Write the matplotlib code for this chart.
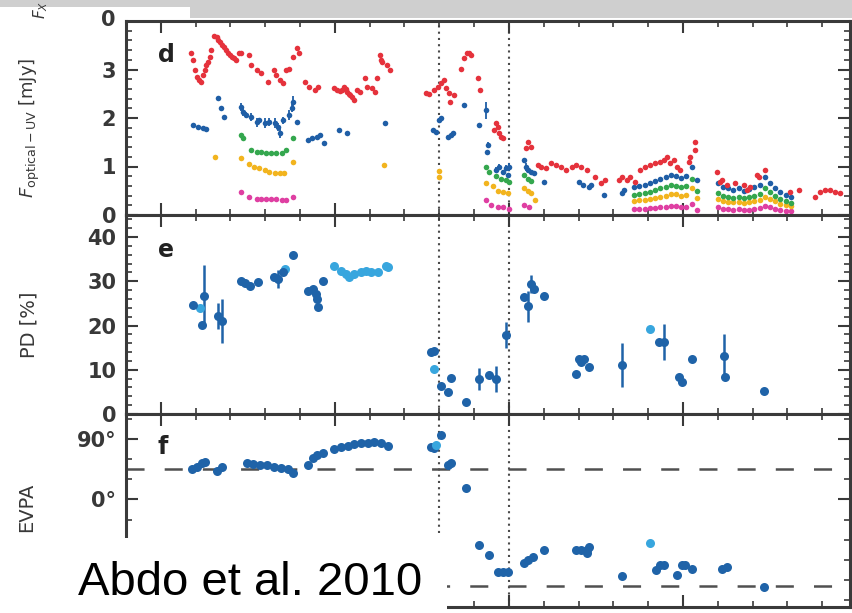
import numpy as np
import matplotlib
matplotlib.use('Agg')
import matplotlib.pyplot as plt
from matplotlib.ticker import MultipleLocator
from matplotlib.patches import Rectangle

plt.rcParams['font.family'] = 'DejaVu Sans'
plt.rcParams['lines.scale_dashes'] = False

# time axis is MJD - 54700
# optical (R band) flux, (day, mJy)
red_pts = [
    (58.7, 3.33), (59.3, 3.19), (59.9, 2.98), (60.4, 2.84), (61.0, 2.78), (61.6, 2.74),
    (62.2, 2.88), (62.8, 2.98), (63.1, 3.09), (63.6, 3.15), (64.0, 3.25), (64.5, 3.40),
    (65.4, 3.70), (66.0, 3.66), (66.5, 3.60), (67.1, 3.56), (67.7, 3.50), (68.2, 3.46),
    (68.8, 3.40), (69.4, 3.35), (70.0, 3.29), (70.5, 3.25), (71.1, 3.23), (71.7, 3.19),
    (72.6, 3.35), (73.1, 3.33), (75.4, 3.29), (76.0, 3.09), (77.5, 2.98), (78.9, 2.92),
    (80.9, 2.74), (82.4, 2.98), (83.2, 2.88), (84.1, 2.78), (85.2, 2.72), (86.1, 2.98),
    (86.7, 3.02), (88.1, 3.25), (89.0, 3.44), (89.6, 3.33),
    (91.3, 2.74), (92.7, 2.63), (94.2, 2.57), (95.3, 2.63),
    (99.7, 2.61), (100.5, 2.57), (101.4, 2.55), (102.0, 2.57), (102.5, 2.63), (103.1, 2.59),
    (103.4, 2.53), (104.0, 2.49), (104.3, 2.47), (104.8, 2.43), (105.4, 2.37), (106.3, 2.57),
    (107.1, 2.53), (108.6, 2.82), (109.2, 2.63), (110.6, 2.61), (111.5, 2.53), (112.0, 2.82),
    (112.9, 3.29), (113.2, 3.19), (113.5, 3.15), (114.9, 3.09), (115.8, 2.98),
    (126.2, 2.51), (127.0, 2.49), (128.5, 2.57), (129.6, 2.63), (130.5, 2.72), (131.4, 2.78),
    (131.9, 2.61), (132.8, 2.51), (133.0, 2.33), (134.2, 2.47),
    (136.3, 3.02), (137.1, 3.23), (138.0, 3.33), (138.6, 3.35), (139.1, 3.29), (141.2, 2.82),
    (141.7, 2.57),
    (145.8, 1.75), (146.3, 1.89), (146.9, 1.81), (147.2, 1.69), (147.8, 1.61), (148.4, 1.58),
    (155.0, 1.38), (155.6, 1.50), (156.4, 1.40),
    (158.4, 1.03), (159.3, 0.99), (160.7, 0.97), (162.2, 1.07), (163.6, 1.03), (165.1, 0.99),
    (166.5, 0.93), (168.0, 0.99), (169.4, 1.03), (170.8, 0.99), (172.3, 0.93), (174.6, 0.78),
    (176.6, 0.66), (177.5, 0.72),
    (181.5, 0.72), (182.4, 0.78), (183.8, 0.72), (184.7, 0.78), (186.1, 0.68), (187.6, 0.93),
    (189.0, 0.99), (190.4, 1.03), (191.9, 1.07), (193.3, 1.09), (194.5, 1.13), (195.3, 1.19),
    (196.2, 1.07), (197.3, 1.13), (198.2, 0.99), (199.1, 0.93), (201.7, 1.09), (202.0, 1.19),
    (203.4, 1.34), (203.6, 1.50),
    (209.7, 0.88), (210.6, 0.68), (211.2, 0.72), (212.6, 0.62), (214.9, 0.66), (217.5, 0.62),
    (218.4, 0.51), (219.2, 0.58), (221.3, 0.82), (221.8, 0.78), (223.6, 0.93),
    (230.8, 0.47), (233.4, 0.51), (238.0, 0.37), (239.4, 0.47), (240.9, 0.51), (242.3, 0.51),
    (243.7, 0.47), (245.2, 0.45),
]

# UV band fluxes (day, mJy, error)
blue_pts = [
    (59.3, 1.85, 0), (60.7, 1.81, 0), (62.2, 1.79, 0), (63.1, 1.77, 0),
    (66.5, 2.41, 0), (67.4, 2.20, 0), (68.2, 2.02, 0),
    (73.1, 2.22, 0.08), (73.7, 2.12, 0.08), (74.6, 2.06, 0.06), (76.0, 2.02, 0.08),
    (77.5, 1.91, 0.10), (78.3, 1.95, 0.06), (79.8, 1.89, 0.10), (81.2, 1.91, 0.08),
    (82.7, 1.89, 0.10), (83.8, 1.81, 0.08), (84.1, 1.69, 0.10), (85.2, 1.95, 0.08),
    (86.7, 2.06, 0.10), (87.6, 2.20, 0.08), (88.1, 2.33, 0.12), (89.0, 1.91, 0),
    (92.4, 1.54, 0), (93.3, 1.58, 0), (94.8, 1.61, 0), (95.6, 1.65, 0), (96.8, 1.48, 0),
    (101.1, 1.75, 0), (103.4, 1.69, 0), (114.4, 1.89, 0),
    (128.2, 1.75, 0), (129.0, 1.71, 0), (129.9, 1.95, 0), (130.5, 1.99, 0),
    (132.5, 1.61, 0), (133.4, 1.65, 0), (133.9, 1.69, 0),
    (137.1, 2.26, 0), (141.4, 1.85, 0), (143.5, 2.16, 0.18), (144.0, 1.45, 0.06), (143.6, 1.30, 0),
    (146.3, 0.93, 0.06), (147.2, 0.99, 0.06), (148.4, 0.88, 0.05), (149.2, 0.97, 0.06),
    (150.1, 0.99, 0.08), (149.8, 0.82, 0),
    (154.4, 1.13, 0.05), (155.0, 0.99, 0.08), (155.6, 0.93, 0), (156.4, 0.88, 0), (157.3, 0.86, 0),
    (160.2, 0.68, 0), (170.0, 0.68, 0), (171.4, 0.62, 0), (172.9, 0.58, 0), (173.7, 0.62, 0),
    (177.2, 0.41, 0), (182.4, 0.45, 0), (183.2, 0.51, 0),
]
green_pts = [
    (73.1, 1.65), (73.7, 1.58), (76.0, 1.34), (77.5, 1.30), (78.9, 1.30), (80.3, 1.27),
    (81.8, 1.27), (83.2, 1.27), (84.7, 1.28), (86.1, 1.34), (88.1, 1.58),
    (143.5, 1.00), (144.3, 0.88), (146.3, 0.80), (147.8, 0.75), (149.2, 0.72), (150.1, 0.68),
    (154.4, 0.82), (155.6, 0.74), (156.4, 0.70),
]
gold_pts = [
    (65.6, 1.19), (73.1, 1.17), (75.4, 1.06), (76.9, 0.99), (78.3, 0.96), (79.8, 0.93),
    (81.2, 0.89), (82.7, 0.87), (84.1, 0.87), (85.5, 0.86), (88.1, 1.10), (114.1, 1.03),
    (130.0, 0.90), (130.0, 0.78),
    (143.5, 0.66), (145.5, 0.60), (146.9, 0.50), (148.4, 0.47), (149.8, 0.45),
    (154.4, 0.55), (155.6, 0.50), (156.4, 0.45), (157.5, 0.31),
]
magenta_pts = [
    (73.1, 0.47), (75.4, 0.37), (77.5, 0.34), (78.9, 0.34), (80.3, 0.33), (81.8, 0.33),
    (83.2, 0.32), (84.7, 0.31), (86.1, 0.31), (88.1, 0.38),
    (143.5, 0.31), (145.0, 0.21), (146.9, 0.17), (148.4, 0.17), (150.1, 0.12),
    (154.4, 0.21), (155.8, 0.17),
]

# late Swift/UVOT coverage, all bands on the same days
uv_days = [186.0, 187.5, 189.0, 190.5, 192.0, 193.5, 195.0, 196.5, 198.0, 199.5, 201.0, 202.5, 204.0,
           210.0, 211.5, 213.0, 214.5, 216.0, 217.5, 219.0, 220.5, 222.0,
           223.5, 225.0, 226.5, 228.0, 229.5, 231.0]
blue_uv = [0.58, 0.60, 0.62, 0.66, 0.70, 0.74, 0.78, 0.82, 0.80, 0.76, 0.80, 1.00, 0.72,
           0.66, 0.58, 0.55, 0.52, 0.55, 0.50, 0.53, 0.57, 0.62,
           0.78, 0.66, 0.55, 0.47, 0.41, 0.37]
green_uv = [0.42, 0.44, 0.46, 0.48, 0.52, 0.55, 0.58, 0.62, 0.60, 0.57, 0.60, 0.75, 0.50,
            0.45, 0.40, 0.38, 0.36, 0.38, 0.35, 0.37, 0.40, 0.44,
            0.55, 0.48, 0.40, 0.33, 0.28, 0.25]
gold_uv = [0.28, 0.30, 0.31, 0.33, 0.35, 0.38, 0.40, 0.44, 0.43, 0.40, 0.42, 0.55, 0.35,
           0.32, 0.28, 0.27, 0.26, 0.27, 0.25, 0.26, 0.28, 0.31,
           0.38, 0.33, 0.28, 0.23, 0.20, 0.18]
magenta_uv = [0.12, 0.13, 0.13, 0.14, 0.15, 0.16, 0.17, 0.19, 0.18, 0.17, 0.17, 0.22, 0.10,
              0.16, 0.13, 0.12, 0.11, 0.12, 0.10, 0.11, 0.12, 0.14,
              0.18, 0.16, 0.13, 0.11, 0.09, 0.08]

# polarization degree (day, %, error)
pd_pts = [
    (59.3, 24.7, 0), (61.9, 20.1, 0), (62.5, 26.7, 7.0), (66.5, 22.2, 3.0), (67.7, 21.0, 5.0),
    (72.9, 30.1, 0), (74.3, 29.6, 0), (75.7, 29.0, 0), (77.8, 29.9, 0),
    (82.4, 31.0, 0), (83.8, 30.5, 2.0), (85.0, 32.1, 0), (88.1, 36.0, 0),
    (92.4, 27.8, 0), (93.6, 28.3, 0), (94.5, 27.1, 0), (95.0, 26.0, 0), (95.3, 24.2, 0), (96.5, 30.1, 0),
    (127.6, 14.0, 0), (128.5, 14.2, 0), (130.5, 6.3, 0), (132.5, 5.0, 0), (133.4, 8.1, 0),
    (137.7, 2.7, 0), (141.4, 7.9, 2.5), (144.3, 8.8, 0), (146.3, 7.9, 3.0), (149.2, 17.9, 3.0),
    (154.4, 26.5, 0), (155.6, 24.4, 3.5), (156.4, 29.4, 2.0), (157.3, 28.3, 0), (160.2, 26.7, 0),
    (169.4, 9.0, 0), (170.0, 12.4, 0), (170.8, 11.8, 0), (171.7, 12.4, 0), (173.1, 10.6, 0),
    (182.4, 11.1, 5.0), (193.0, 16.3, 0), (194.5, 16.3, 4.0),
    (198.8, 8.4, 0), (199.7, 7.2, 0), (202.5, 12.4, 0),
    (211.8, 13.1, 5.0), (212.0, 8.4, 0), (223.3, 5.2, 0),
]
pd_light = [
    (61.3, 24.0), (85.8, 32.8), (99.7, 33.5), (101.7, 32.4), (103.1, 31.7), (104.0, 31.0),
    (105.4, 31.7), (107.4, 32.1), (108.9, 32.4), (110.3, 32.1), (112.3, 32.1), (114.6, 33.5),
    (115.2, 33.3), (128.5, 10.2), (190.4, 19.2),
]

# polarization angle (day, deg)
evpa_pts = [
    (59.0, 45.7), (60.5, 48.7), (61.9, 54.7), (62.8, 56.2), (66.2, 42.7), (67.7, 48.7),
    (74.9, 54.7), (76.6, 53.2), (78.6, 51.7), (80.6, 51.7), (82.4, 48.7), (84.4, 47.2),
    (86.4, 45.7), (88.1, 39.7),
    (92.2, 51.7), (93.6, 62.2), (95.0, 66.7), (96.5, 69.7),
    (99.7, 75.7), (101.7, 78.7), (103.7, 80.2), (105.4, 83.2), (107.4, 84.7), (109.5, 84.7),
    (111.2, 86.2), (113.2, 84.7), (115.2, 80.2),
    (127.6, 78.7), (128.5, 77.2), (130.5, 96.7), (132.5, 51.7), (133.4, 54.7), (137.7, 17.2),
    (141.4, -68.2), (144.3, -83.2), (146.9, -108.7), (148.4, -108.7), (149.8, -108.7),
    (154.4, -95.2), (155.6, -90.7), (157.0, -86.2), (160.2, -75.7),
    (169.4, -75.7), (170.8, -75.7), (172.3, -75.7), (172.9, -71.2), (172.3, -80.2),
    (182.4, -114.7), (192.4, -105.7), (193.3, -98.2), (194.5, -98.2),
    (198.2, -113.2), (199.7, -98.2), (200.5, -98.2), (202.5, -104.2),
    (211.2, -104.2), (212.6, -101.2), (223.3, -131.2),
]
evpa_light = [(129.0, 81.7), (190.4, -65.2)]

flare_days = [130, 150]
jet_angles = [45, -130]

RED = '#e5323c'
BLUE = '#1f5ea6'
GREEN = '#34a74e'
GOLD = '#f2b41e'
MAGENTA = '#df3fa2'
DARK = '#1f63a8'
LIGHT = '#38a6de'
SPINE = '#3a3a3a'
TEXT = '#383838'

W, H = 852, 613


def px_rect(x0, y0, x1, y1):
    # pixel box measured from the top left -> [left, bottom, width, height]
    return [x0 / W, 1 - y1 / H, (x1 - x0) / W, (y1 - y0) / H]


def style(ax, ylim, minor):
    ax.set_xlim(40, 248)
    ax.set_ylim(*ylim)
    ax.xaxis.set_major_locator(MultipleLocator(50))
    ax.xaxis.set_minor_locator(MultipleLocator(10))
    ax.yaxis.set_minor_locator(MultipleLocator(minor))
    ax.tick_params(which='both', direction='in', top=True, right=True,
                   labelbottom=False, color=SPINE)
    ax.tick_params(which='major', length=8.5, width=1.5)
    ax.tick_params(which='minor', length=4, width=1.2)
    ax.tick_params(axis='y', labelsize=15, labelcolor=TEXT, pad=7)
    for s in ax.spines.values():
        s.set_linewidth(2.2)
        s.set_color(SPINE)


def dotted(ax, x, y0=None, y1=None):
    if y0 is None:
        ax.axvline(x, color='#4a4a4a', lw=1.5, ls=(0, (1.5, 3)), zorder=1)
    else:
        ax.vlines(x, y0, y1, color='#4a4a4a', lw=1.5, ls=(0, (1.5, 3)), zorder=1)


def panel_letter(ax, s, yfrac):
    ax.text(0.044, yfrac, s, transform=ax.transAxes, ha='left', va='top',
            fontsize=17, fontweight='bold', color='#222222')


fig = plt.figure(figsize=(W / 100, H / 100), dpi=100)

ax_d = fig.add_axes(px_rect(126, 21, 850, 215))
ax_e = fig.add_axes(px_rect(126, 215, 850, 414))
ax_f = fig.add_axes(px_rect(126, 414, 850, 607))

# --- d: optical-UV light curves
style(ax_d, (0, 4), 0.2)
ax_d.set_yticks([0, 1, 2, 3], ['0', '1', '2', '3'], fontweight='bold')
for x in flare_days:
    dotted(ax_d, x)

mk = dict(ls='none', marker='o', ms=4, mew=0, zorder=3)
for pts, uv, col in [(magenta_pts, magenta_uv, MAGENTA), (gold_pts, gold_uv, GOLD),
                     (green_pts, green_uv, GREEN)]:
    t, f = np.array(pts).T
    ax_d.plot(np.concatenate([t, uv_days]), np.concatenate([f, uv]), color=col, **mk)
bt, bf, be = np.array(blue_pts).T
ax_d.errorbar(bt, bf, yerr=be, fmt='none', ecolor=BLUE, elinewidth=1.3, zorder=2)
ax_d.plot(np.concatenate([bt, uv_days]), np.concatenate([bf, blue_uv]), color=BLUE, **mk)
rt, rf = np.array(red_pts).T
ax_d.plot(rt, rf, color=RED, **mk)
panel_letter(ax_d, 'd', 0.887)

# --- e: polarization degree
style(ax_e, (0, 45), 2)
ax_e.set_yticks([0, 10, 20, 30, 40], ['0', '10', '20', '30', '40'], fontweight='bold')
for x in flare_days:
    dotted(ax_e, x)
pt, pv, pe = np.array(pd_pts).T
ax_e.errorbar(pt, pv, yerr=pe, fmt='o', ms=6.5, mew=0, color=DARK,
              elinewidth=1.8, capsize=0, zorder=3)
lt, lv = np.array(pd_light).T
ax_e.plot(lt, lv, ls='none', marker='o', ms=6.5, mew=0, color=LIGHT, zorder=3)
panel_letter(ax_e, 'e', 0.884)

# --- f: polarization angle
style(ax_f, (-161, 128), 30)
ax_f.set_yticks([0, 90], ['0°', '90°'], fontweight='bold')
dotted(ax_f, flare_days[0], -50, 128)
dotted(ax_f, flare_days[1])
for a in jet_angles:
    ax_f.axhline(a, color='#505050', lw=1.8, ls=(0, (13, 14.5)), zorder=1)
et, ev = np.array(evpa_pts).T
ax_f.plot(et, ev, ls='none', marker='o', ms=6.5, mew=0, color=DARK, zorder=3)
ft, fv = np.array(evpa_light).T
ax_f.plot(ft, fv, ls='none', marker='o', ms=6.5, mew=0, color=LIGHT, zorder=3)
panel_letter(ax_f, 'f', 0.891)

# axis titles on the left margin
fig.text(30 / W, 1 - 128 / H, r'$F_{\mathrm{optical-UV}}$ [mJy]', rotation=90,
         ha='center', va='center', fontsize=13, color=TEXT)
fig.text(29 / W, 1 - 325 / H, 'PD [%]', rotation=90, ha='center', va='center',
         fontsize=14, color=TEXT)
fig.text(27 / W, 1 - 507 / H, 'EVPA', rotation=90, ha='center', va='center',
         fontsize=14, color=TEXT)

# remains of the X-ray panel above
fig.patches.append(Rectangle((0, 1 - 7 / H), 1, 7 / H, transform=fig.transFigure,
                             facecolor='#cfcfcf', edgecolor='none', zorder=5))
fig.patches.append(Rectangle((190 / W, 1 - 18 / H), 1, 11 / H, transform=fig.transFigure,
                             facecolor='#cfcfcf', edgecolor='none', zorder=5))
fig.text(115 / W, 1 - 20 / H, '0', ha='right', va='center', fontsize=15,
         fontweight='bold', color=TEXT)
fig.text(41 / W, 1 - 1 / H, r'$F_X$', rotation=90, ha='center', va='top',
         fontsize=11, color=TEXT, zorder=6)

# citation box
fig.patches.append(Rectangle((57 / W, 0), (447 - 57) / W, (613 - 538) / H,
                             transform=fig.transFigure, facecolor='white',
                             edgecolor='none', zorder=10))
fig.text(78 / W, 1 - 595 / H, 'Abdo et al. 2010', ha='left', va='baseline',
         fontsize=34, family='Liberation Sans', color='black', zorder=11)

fig.savefig('out.png', dpi=100)
